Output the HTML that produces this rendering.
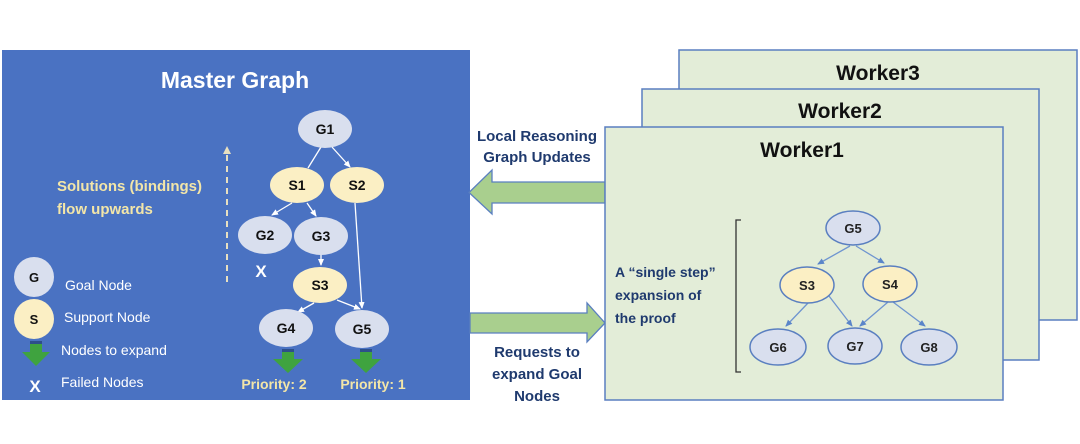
<!DOCTYPE html>
<html><head><style>
body{margin:0;background:#fff;}
svg{display:block;font-family:"Liberation Sans",sans-serif;font-weight:bold;}
</style></head><body>
<svg width="1080" height="444" viewBox="0 0 1080 444" xmlns="http://www.w3.org/2000/svg">
<defs>
<marker id="wa" markerWidth="8" markerHeight="8" refX="6" refY="3" orient="auto" markerUnits="userSpaceOnUse"><path d="M0,0 L7,3 L0,6 z" fill="#fff"/></marker>
<marker id="ba" markerWidth="8" markerHeight="8" refX="6" refY="3" orient="auto" markerUnits="userSpaceOnUse"><path d="M0,0 L7,3 L0,6 z" fill="#5a85c9"/></marker>
</defs>
<rect x="2" y="50" width="468" height="350" fill="#4a72c2"/>
<text x="235" y="88" fill="#fff" font-size="23" text-anchor="middle">Master Graph</text>
<text x="57" y="191" fill="#f3e6a8" font-size="15">Solutions (bindings)</text>
<text x="57" y="214" fill="#f3e6a8" font-size="15">flow upwards</text>
<line x1="227" y1="282" x2="227" y2="152" stroke="#e8e0c0" stroke-width="2" stroke-dasharray="6,5"/>
<path d="M223,154 L227,146 L231,154z" fill="#e8e0c0"/>
<g stroke="#fff" stroke-width="1.3" fill="none">
<line x1="321" y1="147" x2="308" y2="168" />
<line x1="332" y1="147" x2="350" y2="167" marker-end="url(#wa)"/>
<line x1="292" y1="203" x2="272" y2="215" marker-end="url(#wa)"/>
<line x1="307" y1="203" x2="316" y2="216" marker-end="url(#wa)"/>
<line x1="321" y1="254" x2="321" y2="265" marker-end="url(#wa)"/>
<line x1="355" y1="203" x2="362" y2="308" marker-end="url(#wa)"/>
<line x1="314" y1="303" x2="298" y2="312" marker-end="url(#wa)"/>
<line x1="337" y1="300" x2="360" y2="309" marker-end="url(#wa)"/>
</g>
<g font-size="14" text-anchor="middle" fill="#111">
<ellipse cx="325" cy="129" rx="27" ry="19" fill="#d9dfee"/><text x="325" y="134">G1</text>
<ellipse cx="297" cy="185" rx="27" ry="18" fill="#fbefc4"/><text x="297" y="190">S1</text>
<ellipse cx="357" cy="185" rx="27" ry="18" fill="#fbefc4"/><text x="357" y="190">S2</text>
<ellipse cx="265" cy="235" rx="27" ry="19" fill="#d9dfee"/><text x="265" y="240">G2</text>
<ellipse cx="321" cy="236" rx="27" ry="19" fill="#d9dfee"/><text x="321" y="241">G3</text>
<ellipse cx="320" cy="285" rx="27" ry="18" fill="#fbefc4"/><text x="320" y="290">S3</text>
<ellipse cx="286" cy="328" rx="27" ry="19" fill="#d9dfee"/><text x="286" y="333">G4</text>
<ellipse cx="362" cy="329" rx="27" ry="19" fill="#d9dfee"/><text x="362" y="334">G5</text>
<circle cx="34" cy="277" r="20" fill="#d9dfee"/><text x="34" y="282" font-size="13">G</text>
<circle cx="34" cy="319" r="20" fill="#fbefc4"/><text x="34" y="324" font-size="13">S</text>
</g>
<text x="261" y="277" fill="#fff" font-size="17" text-anchor="middle">X</text>
<text x="35" y="392" fill="#fff" font-size="17" text-anchor="middle">X</text>
<g fill="#3fa33f">
<path d="M30,342 h12 v10 h8 l-14,14 l-14,-14 h8z"/>
<path d="M282,350 h12 v9 h9 l-15,14 l-15,-14 h9z"/>
<path d="M360,350 h12 v9 h9 l-15,14 l-15,-14 h9z"/>
</g>
<rect x="30" y="341" width="12" height="3" fill="#2d4f8a"/>
<rect x="282" y="349" width="12" height="3" fill="#2d4f8a"/>
<rect x="360" y="349" width="12" height="3" fill="#2d4f8a"/>
<g fill="#fff" font-size="14" font-weight="normal">
<text x="65" y="290">Goal Node</text>
<text x="64" y="322">Support Node</text>
<text x="61" y="355">Nodes to expand</text>
<text x="61" y="387">Failed Nodes</text>
</g>
<g fill="#f3e6a8" font-size="14" text-anchor="middle">
<text x="274" y="389">Priority: 2</text>
<text x="373" y="389">Priority: 1</text>
</g>
<g fill="#1f3a6e" font-size="15" text-anchor="middle">
<text x="537" y="141">Local Reasoning</text>
<text x="537" y="162">Graph Updates</text>
<text x="537" y="357">Requests to</text>
<text x="537" y="379">expand Goal</text>
<text x="537" y="401">Nodes</text>
</g>
<path d="M605,182 L492,182 L492,170 L469,192.5 L492,214 L492,203 L605,203z" fill="#a9cf8e" stroke="#5a7fc0" stroke-width="1.3"/>
<path d="M470,313 L587,313 L587,303 L605,323 L587,342 L587,333 L470,333z" fill="#a9cf8e" stroke="#5a7fc0" stroke-width="1.3"/>
<rect x="679" y="50" width="398" height="270" fill="#e3edd8" stroke="#5a7fc0" stroke-width="1.5"/>
<text x="878" y="80" font-size="21" text-anchor="middle" fill="#111">Worker3</text>
<rect x="642" y="89" width="397" height="271" fill="#e3edd8" stroke="#5a7fc0" stroke-width="1.5"/>
<text x="840" y="118" font-size="21" text-anchor="middle" fill="#111">Worker2</text>
<rect x="605" y="127" width="398" height="273" fill="#e3edd8" stroke="#5a7fc0" stroke-width="1.5"/>
<text x="802" y="157" font-size="21" text-anchor="middle" fill="#111">Worker1</text>
<g fill="#1f3a6e" font-size="14">
<text x="615" y="277">A “single step”</text>
<text x="615" y="300">expansion of</text>
<text x="615" y="323">the proof</text>
</g>
<path d="M741,220 h-5 v152 h5" fill="none" stroke="#333" stroke-width="1.3"/>
<g stroke="#6f95d0" stroke-width="1.3" fill="none">
<line x1="850" y1="246" x2="818" y2="264" marker-end="url(#ba)"/>
<line x1="856" y1="246" x2="884" y2="263" marker-end="url(#ba)"/>
<line x1="808" y1="303" x2="786" y2="326" marker-end="url(#ba)"/>
<line x1="829" y1="296" x2="852" y2="326" marker-end="url(#ba)"/>
<line x1="888" y1="302" x2="860" y2="326" marker-end="url(#ba)"/>
<line x1="893" y1="302" x2="925" y2="326" marker-end="url(#ba)"/>
</g>
<g font-size="13" text-anchor="middle" fill="#222" stroke-width="1.5">
<ellipse cx="853" cy="228" rx="27" ry="17" fill="#d9dfee" stroke="#5a7fc0"/><text x="853" y="233">G5</text>
<ellipse cx="807" cy="285" rx="27" ry="18" fill="#fbefc4" stroke="#5a7fc0"/><text x="807" y="290">S3</text>
<ellipse cx="890" cy="284" rx="27" ry="18" fill="#fbefc4" stroke="#5a7fc0"/><text x="890" y="289">S4</text>
<ellipse cx="778" cy="347" rx="28" ry="18" fill="#d9dfee" stroke="#5a7fc0"/><text x="778" y="352">G6</text>
<ellipse cx="855" cy="346" rx="27" ry="18" fill="#d9dfee" stroke="#5a7fc0"/><text x="855" y="351">G7</text>
<ellipse cx="929" cy="347" rx="28" ry="18" fill="#d9dfee" stroke="#5a7fc0"/><text x="929" y="352">G8</text>
</g>
</svg>
</body></html>
